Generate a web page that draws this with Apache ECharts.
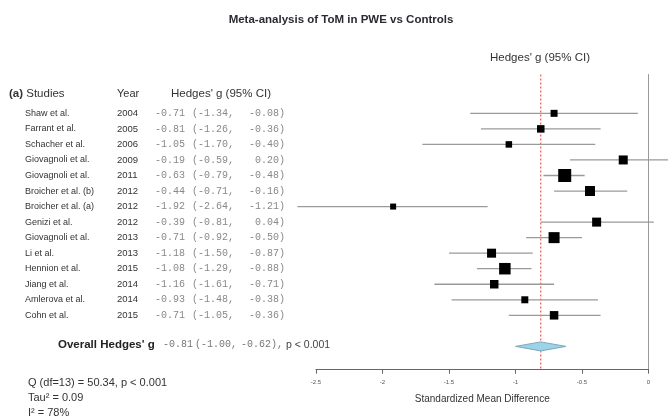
<!DOCTYPE html>
<html><head><meta charset="utf-8">
<script src="https://cdn.jsdelivr.net/npm/echarts@6/dist/echarts.min.js"></script>
<style>html,body{margin:0;padding:0;background:#fff}#c{width:668px;height:419px}</style>
</head><body><div id="c"></div>
<script>
// ---------------- data ----------------
const studies = ['Shaw et al.', 'Farrant et al.', 'Schacher et al.', 'Giovagnoli et al.', 'Giovagnoli et al.',
  'Broicher et al. (b)', 'Broicher et al. (a)', 'Genizi et al.', 'Giovagnoli et al.', 'Li et al.',
  'Hennion et al.', 'Jiang et al.', 'Amlerova et al.', 'Cohn et al.'];
const years = [2004, 2005, 2006, 2009, 2011, 2012, 2012, 2012, 2013, 2013, 2015, 2014, 2014, 2015];
const hedgesG = [-0.71, -0.81, -1.05, -0.19, -0.63, -0.44, -1.92, -0.39, -0.71, -1.18, -1.08, -1.16, -0.93, -0.71];
const ciLow = [-1.34, -1.26, -1.70, -0.59, -0.79, -0.71, -2.64, -0.81, -0.92, -1.50, -1.29, -1.61, -1.48, -1.05];
const ciHigh = [-0.08, -0.36, -0.40, 0.20, -0.48, -0.16, -1.21, 0.04, -0.50, -0.87, -0.88, -0.71, -0.38, -0.36];
const studyWeight = [7, 7.5, 6.5, 9, 13, 10, 6, 9, 11, 9, 11.5, 8.5, 7, 8.5];
const overall = [-0.81, -1.00, -0.62];
const overallP = 'p < 0.001';
const heterogeneity = ['Q (df=13) = 50.34, p < 0.001', 'Tau\u00B2 = 0.09', 'I\u00B2 = 78%'];
const xTicks = [-2.5, -2, -1.5, -1, -0.5, 0];

// ---------------- layout ----------------
const TOP = 74.5, BOTTOM = 49.3;
const ROW_MIN = -2.5, ROW_MAX = 16.5;
const OVERALL_ROW = studies.length + 1;
const fmt = v => (v >= 0 ? ' ' : '') + v.toFixed(2);
const SANS = 'Liberation Sans', MONO = 'Liberation Mono';
const MONO_FONT = '10px ' + MONO;

const forestData = hedgesG.map((g, i) => [g, ciLow[i], ciHigh[i], i, studyWeight[i]]);
const textData = studies.map((s, i) => [0, i]);

const chart = echarts.init(document.getElementById('c'), null, {renderer: 'canvas'});
chart.setOption({
  animation: false,
  backgroundColor: '#fff',
  graphic: [
    {type: 'text', x: 341, y: 20, style: {text: 'Meta-analysis of ToM in PWE vs Controls', font: 'bold 11.5px ' + SANS, fill: '#2a2a33', align: 'center', verticalAlign: 'middle'}},
    {type: 'text', x: 540, y: 58, style: {text: "Hedges' g (95% CI)", font: '11.5px ' + SANS, fill: '#333', align: 'center', verticalAlign: 'middle'}}
  ],
  grid: [
    {left: 316, right: 19.5, top: TOP, bottom: BOTTOM, outerBoundsMode: 'none', containLabel: false},
    {left: 0, width: 310, top: TOP, bottom: BOTTOM, outerBoundsMode: 'none', containLabel: false}
  ],
  xAxis: [
    {type: 'value', gridIndex: 0, min: xTicks[0], max: xTicks[xTicks.length - 1], interval: 0.5,
     axisLine: {show: true, onZero: false, lineStyle: {color: '#666', width: 1}},
     axisTick: {show: true, length: 4, lineStyle: {color: '#666'}},
     axisLabel: {fontSize: 6, color: '#555', margin: 10, fontFamily: SANS},
     splitLine: {show: false},
     name: 'Standardized Mean Difference', nameLocation: 'middle', nameGap: 25,
     nameTextStyle: {fontSize: 10, color: '#333', fontFamily: SANS}},
    {type: 'value', gridIndex: 1, min: 0, max: 310, show: false}
  ],
  yAxis: [
    {type: 'value', gridIndex: 0, min: ROW_MIN, max: ROW_MAX, inverse: true, position: 'right',
     axisLine: {show: true, onZero: false, lineStyle: {color: '#999', width: 1}},
     axisTick: {show: false}, axisLabel: {show: false}, splitLine: {show: false}},
    {type: 'value', gridIndex: 1, min: ROW_MIN, max: ROW_MAX, inverse: true, show: false}
  ],
  series: [
    {
      type: 'custom', xAxisIndex: 0, yAxisIndex: 0, clip: false, silent: true,
      data: [[overall[0], ROW_MIN, ROW_MAX]],
      renderItem(params, api) {
        const a = api.coord([api.value(0), api.value(1)]), b = api.coord([api.value(0), api.value(2)]);
        return {type: 'line', shape: {x1: a[0], y1: a[1], x2: b[0], y2: b[1]},
          style: {stroke: '#e53a3a', lineWidth: 1, lineDash: [2, 2]}};
      }
    },
    {
      type: 'custom', xAxisIndex: 0, yAxisIndex: 0, clip: false, silent: true,
      data: forestData,
      renderItem(params, api) {
        const e = api.value(0), l = api.value(1), h = api.value(2), r = api.value(3), w = api.value(4);
        const pe = api.coord([e, r]), pl = api.coord([l, r]), ph = api.coord([h, r]);
        return {type: 'group', children: [
          {type: 'line', shape: {x1: pl[0], y1: pl[1], x2: ph[0], y2: ph[1]}, style: {stroke: '#9a9a9a', lineWidth: 1.3}},
          {type: 'rect', shape: {x: pe[0] - w / 2, y: pe[1] - w / 2, width: w, height: w}, style: {fill: '#000'}}
        ]};
      }
    },
    {
      type: 'custom', xAxisIndex: 0, yAxisIndex: 0, clip: false, silent: true,
      data: [[overall[0], overall[1], overall[2], OVERALL_ROW]],
      renderItem(params, api) {
        const e = api.value(0), l = api.value(1), h = api.value(2), r = api.value(3);
        const pe = api.coord([e, r]), pl = api.coord([l, r]), ph = api.coord([h, r]);
        const hh = 4.5;
        return {type: 'polygon', shape: {points: [[pl[0], pl[1]], [pe[0], pe[1] - hh], [ph[0], ph[1]], [pe[0], pe[1] + hh]]},
          style: {fill: '#9dd3e8', stroke: '#7aa9bd', lineWidth: 1}};
      }
    },
    {
      type: 'custom', xAxisIndex: 1, yAxisIndex: 1, clip: false, silent: true,
      data: textData,
      renderItem(params, api) {
        const i = params.dataIndex, r = api.value(1);
        const y = api.coord([0, r])[1];
        const t = (x, text, font, fill, align) => ({type: 'text', x: x, y: y,
          style: {text: text, font: font, fill: fill, align: align || 'left', verticalAlign: 'middle'}});
        return {type: 'group', children: [
          t(api.coord([25, r])[0], studies[i], '9px ' + SANS, '#333'),
          t(api.coord([117, r])[0], String(years[i]), '9.5px ' + SANS, '#333'),
          t(api.coord([155, r])[0], fmt(hedgesG[i]), MONO_FONT, '#888'),
          t(api.coord([192, r])[0], '(' + fmt(ciLow[i]) + ',', MONO_FONT, '#888'),
          t(api.coord([285, r])[0], fmt(ciHigh[i]) + ')', MONO_FONT, '#888', 'right')
        ]};
      }
    },
    {
      type: 'custom', xAxisIndex: 1, yAxisIndex: 1, clip: false, silent: true,
      data: [[0, 0]],
      renderItem(params, api) {
        const P = (x, r) => api.coord([x, r]);
        const t = (x, r, text, font, fill, align, rich) => {
          const p = P(x, r);
          const st = {text: text, font: font, fill: fill, align: align || 'left', verticalAlign: 'middle'};
          if (rich) st.rich = rich;
          return {type: 'text', x: p[0], y: p[1], style: st};
        };
        const hdr = -1.24;
        const ovr = OVERALL_ROW - 0.1;
        return {type: 'group', children: [
          t(9, hdr, '{b|(a)} Studies', '11.5px ' + SANS, '#333', 'left', {b: {fontWeight: 'bold', fontSize: 11.5, fontFamily: SANS, fill: '#333'}}),
          t(117, hdr, 'Year', '11px ' + SANS, '#333'),
          t(171, hdr, "Hedges' g (95% CI)", '11.5px ' + SANS, '#333'),
          t(58, ovr, "Overall Hedges' g", 'bold 11.5px ' + SANS, '#222'),
          t(163, ovr, fmt(overall[0]), MONO_FONT, '#777'),
          t(195, ovr, '(' + fmt(overall[1]) + ',', MONO_FONT, '#777'),
          t(283, ovr, fmt(overall[2]) + '),', MONO_FONT, '#777', 'right'),
          t(286, ovr, overallP, '10.5px ' + SANS, '#444'),
          t(28, 17.36, heterogeneity[0], '11px ' + SANS, '#333'),
          t(28, 18.32, heterogeneity[1], '11px ' + SANS, '#333'),
          t(28, 19.29, heterogeneity[2], '11px ' + SANS, '#333')
        ]};
      }
    }
  ]
});
</script></body></html>
